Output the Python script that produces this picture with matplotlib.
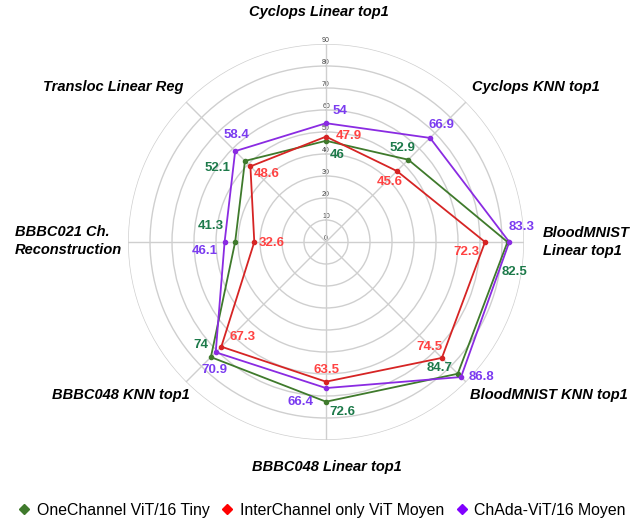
import numpy as np
import matplotlib
matplotlib.use("Agg")
import matplotlib.pyplot as plt
from matplotlib.lines import Line2D

categories = [
    "Cyclops Linear top1",
    "Cyclops KNN top1",
    "BloodMNIST\nLinear top1",
    "BloodMNIST KNN top1",
    "BBBC048 Linear top1",
    "BBBC048 KNN top1",
    "BBBC021 Ch.\nReconstruction",
    "Transloc Linear Reg",
]
series_names = ["OneChannel ViT/16 Tiny", "InterChannel only ViT Moyen", "ChAda-ViT/16 Moyen"]
one_channel = [46, 52.9, 82.5, 84.7, 72.6, 74, 41.3, 52.1]
inter_channel = [47.9, 45.6, 72.3, 74.5, 63.5, 67.3, 32.6, 48.6]
chada = [54, 66.9, 83.3, 86.8, 66.4, 70.9, 46.1, 58.4]
radial_ticks = [0, 10, 20, 30, 40, 50, 60, 70, 80, 90]

plt.rcParams["font.family"] = ["Liberation Sans", "DejaVu Sans"]

line_colors = ["#3f7a2c", "#d62424", "#8a2be2"]
text_colors = ["#1d7a4a", "#ff4242", "#7b3cf0"]
marker_colors = ["#3f7a2c", "#ff0000", "#8000ff"]

# label offsets (pixels) per series, per axis
offsets = [
    [(11, -14), (-6, 12), (7, -30), (-18, 6), (16, -10), (-10, 12), (-24, 16), (-27, -7)],
    [(23, 1), (-7, -11), (-19, -10), (-12, 11), (0, 12), (21, 10), (17, -1), (16, -8)],
    [(14, 12), (11, 13), (12, 15), (20, 0), (-26, -14), (-1, -18), (-20, -9), (1, 16)],
]

fig = plt.figure(figsize=(6.42, 5.23), dpi=100)
ax = fig.add_axes([0.1994, 0.1587, 0.6168, 0.7572], projection="polar")
ax.set_theta_zero_location("N")
ax.set_theta_direction(-1)

n = len(categories)
theta = np.linspace(0, 2 * np.pi, n, endpoint=False)
ax.set_ylim(0, 90)
ax.set_xticks(theta)
ax.set_xticklabels([])
ax.set_yticks(radial_ticks[1:])
ax.set_yticklabels([])
ax.grid(True, color="#cfcfcf", linewidth=1.0)
ax.spines["polar"].set_visible(False)
ax.set_facecolor("none")

# radial scale labels along the top spoke
for v in radial_ticks:
    ax.text(0, v + 1.6, str(v), fontsize=5, color="#444444", ha="center",
            va="center", zorder=1)

all_series = [one_channel, inter_channel, chada]
for i, vals in enumerate(all_series):
    t = np.append(theta, theta[0])
    r = np.append(vals, vals[0])
    ax.plot(t, r, color=line_colors[i], linewidth=1.3, zorder=3)
    ax.plot(theta, vals, "o", color=line_colors[i], markersize=3, zorder=4)
    for j, v in enumerate(vals):
        ax.annotate(f"{v:g}", xy=(theta[j], v), xytext=offsets[i][j],
                    textcoords="offset pixels", ha="center", va="center",
                    fontsize=9.5, fontweight="bold", color=text_colors[i],
                    zorder=5, annotation_clip=False)

# category labels, positioned around the outer ring
cat_pos = [
    ((-7, 32), "center"),
    ((6, 15), "left"),
    ((19, 0), "left"),
    ((4, -13), "left"),
    ((1, -27), "center"),
    ((4, -13), "right"),
    ((-6, 1), "right"),
    ((-3, 15), "right"),
]
for k, label in enumerate(categories):
    off, ha = cat_pos[k]
    ax.annotate(label, xy=(theta[k], 90), xytext=off, textcoords="offset pixels",
                ha=ha, va="center", fontsize=10.5, fontweight="bold", style="italic",
                multialignment="left", linespacing=1.45, annotation_clip=False)

handles = [Line2D([0], [0], marker="D", linestyle="none", color=marker_colors[i],
                  markersize=5) for i in range(3)]
fig.legend(handles, series_names, loc="center", bbox_to_anchor=(0.5, 0.024),
           ncol=3, frameon=False, fontsize=11.4, handletextpad=0.3,
           columnspacing=0.6, handlelength=1.0)

fig.savefig("out.png", dpi=100)
